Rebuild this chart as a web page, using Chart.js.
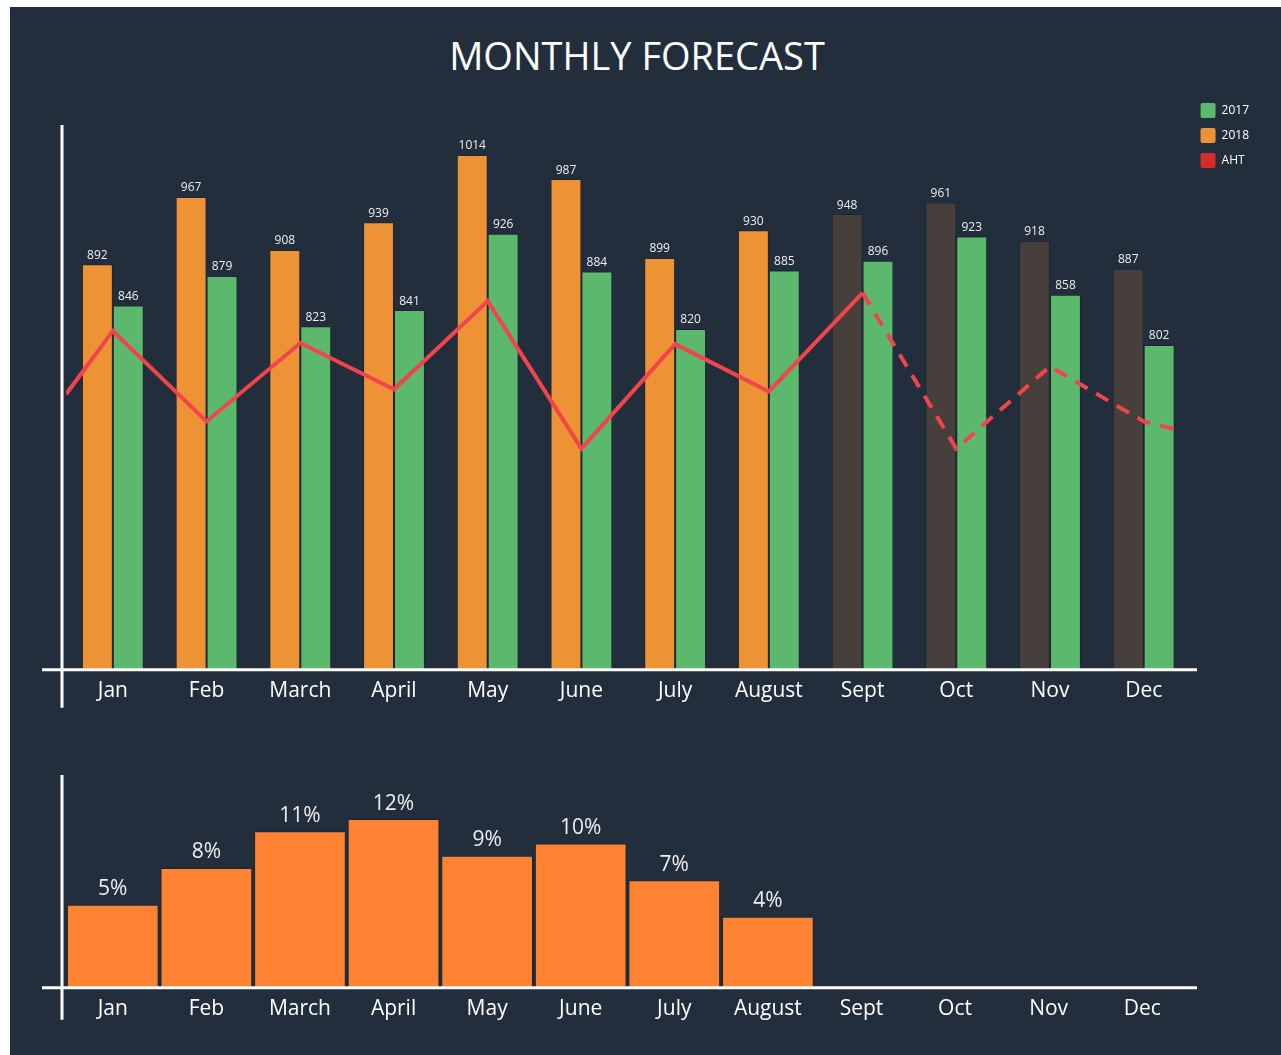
<!DOCTYPE html>
<html>
<head>
<meta charset="utf-8">
<title>Monthly Forecast</title>
<script src="https://cdn.jsdelivr.net/npm/chart.js@4/dist/chart.umd.min.js"></script>
<style>
  html, body { margin: 0; padding: 0; background: #ffffff; }
  #panel {
    position: absolute; left: 10px; top: 7px; width: 1271px; height: 1048px;
    background: #222e3c;
  }
  #title {
    position: absolute; left: 0; top: 36px; width: 1274px;
    text-align: center; color: #ffffff;
    font: 38px/1 'Open Sans', 'Noto Sans', sans-serif;
  }
  canvas { position: absolute; left: 0; }
  #forecastChart { top: 0; }
  #growthChart { top: 740px; }
</style>
</head>
<body>
<div id="panel"></div>
<div id="title">MONTHLY FORECAST</div>
<canvas id="forecastChart" width="1281" height="720"></canvas>
<canvas id="growthChart" width="1281" height="315"></canvas>
<script>
// Categories and values
const months = ['Jan', 'Feb', 'March', 'April', 'May', 'June', 'July', 'August', 'Sept', 'Oct', 'Nov', 'Dec'];
const sales2018 = [892, 967, 908, 939, 1014, 987, 899, 930, 948, 961, 918, 887];
const sales2017 = [846, 879, 823, 841, 926, 884, 820, 885, 896, 923, 858, 802];
// AHT index (0-100): one point per month plus the stubs at both ends
const ahtX = [-0.5, 0, 1, 2, 3, 4, 5, 6, 7, 8, 9, 10, 11, 11.4];
const ahtValues = [50.6, 62.2, 45.6, 60.0, 51.5, 67.7, 40.6, 59.8, 51.1, 69.2, 40.6, 55.7, 45.6, 43.9];
const growthPct = [5, 8, 11, 12, 9, 10, 7, 4, null, null, null, null];
const firstForecast = 8; // Sept onward is forecast

const orange = '#ee9335';
const green = '#5bb86c';
const forecastGrey = '#463f3b';
const red = '#f2444a';
const white = '#ffffff';
const font = "'Open Sans', 'Noto Sans', sans-serif";

Chart.defaults.font.family = font;
Chart.defaults.color = white;

const toPoints = arr => arr.map((v, i) => ({ x: i, y: v }));

// month axis shared by both charts: one tick per month
const monthAxis = {
  type: 'linear',
  min: -0.5,
  max: 11.5,
  offset: false,
  grid: { display: false, drawTicks: false },
  border: { display: false },
  afterBuildTicks: axis => { axis.ticks = months.map((m, i) => ({ value: i })); },
  ticks: {
    color: white,
    font: { size: 21 },
    padding: 9,
    maxRotation: 0,
    autoSkip: false,
    callback: v => months[v]
  }
};

// White axis lines that run past the chart area, like the reference
function axisLinesPlugin(yTop, yBottomExtra) {
  return {
    id: 'axisLines',
    afterDatasetsDraw(chart) {
      const { ctx, chartArea } = chart;
      ctx.save();
      ctx.strokeStyle = white;
      ctx.lineWidth = 3;
      ctx.beginPath();
      ctx.moveTo(42, chartArea.bottom);
      ctx.lineTo(1197, chartArea.bottom);
      ctx.moveTo(62, yTop);
      ctx.lineTo(62, chartArea.bottom + yBottomExtra);
      ctx.stroke();
      ctx.restore();
    }
  };
}

// Value labels above each bar
function barLabelsPlugin(fontSize, suffix, gap) {
  return {
    id: 'barLabels',
    afterDatasetsDraw(chart) {
      const { ctx } = chart;
      ctx.save();
      ctx.fillStyle = '#eeeeee';
      ctx.font = fontSize + 'px ' + font;
      ctx.textAlign = 'center';
      ctx.textBaseline = 'bottom';
      chart.data.datasets.forEach((ds, i) => {
        if (ds.type === 'line') return;
        const meta = chart.getDatasetMeta(i);
        meta.data.forEach((bar, j) => {
          const v = ds.data[j].y;
          if (v === null || v === undefined) return;
          ctx.fillText(v + suffix, bar.x, bar.y - gap);
        });
      });
      ctx.restore();
    }
  };
}

const barColors2018 = months.map((m, i) => i >= firstForecast ? forecastGrey : orange);

new Chart(document.getElementById('forecastChart'), {
  type: 'bar',
  data: {
    datasets: [
      {
        type: 'line',
        label: 'AHT',
        data: ahtX.map((x, i) => ({ x: x, y: ahtValues[i] })),
        yAxisID: 'yLine',
        borderColor: red,
        borderWidth: 4,
        pointRadius: 0,
        tension: 0,
        fill: false,
        segment: {
          borderDash: c => c.p0.parsed.x >= firstForecast ? [14, 10] : undefined
        }
      },
      {
        label: '2018',
        data: toPoints(sales2018),
        backgroundColor: barColors2018,
        borderColor: 'rgba(20,25,35,0.35)',
        borderWidth: 1,
        categoryPercentage: 0.66,
        barPercentage: 1.0
      },
      {
        label: '2017',
        data: toPoints(sales2017),
        backgroundColor: green,
        borderColor: 'rgba(20,25,35,0.35)',
        borderWidth: 1,
        categoryPercentage: 0.66,
        barPercentage: 1.0
      }
    ]
  },
  options: {
    responsive: false,
    animation: false,
    layout: { padding: { left: 66, right: 22, top: 93, bottom: 7 } },
    scales: {
      x: monthAxis,
      y: {
        display: false,
        min: 440,
        max: 1083
      },
      yLine: {
        display: false,
        min: 0,
        max: 105.9
      }
    },
    plugins: {
      legend: {
        position: 'right',
        align: 'start',
        labels: {
          color: white,
          boxWidth: 15,
          boxHeight: 15,
          padding: 10,
          font: { size: 12 },
          generateLabels() {
            return [
              { text: '2017', fillStyle: green, strokeStyle: green, lineWidth: 0, datasetIndex: 2, borderRadius: 2 },
              { text: '2018', fillStyle: orange, strokeStyle: orange, lineWidth: 0, datasetIndex: 1, borderRadius: 2 },
              { text: 'AHT', fillStyle: '#d42b2b', strokeStyle: '#d42b2b', lineWidth: 0, datasetIndex: 0, borderRadius: 2 }
            ].map(l => Object.assign(l, { fontColor: white }));
          }
        }
      },
      tooltip: { enabled: false }
    }
  },
  plugins: [axisLinesPlugin(125, 38), barLabelsPlugin(12, '', 3)]
});

const growthBase = -1.8;

new Chart(document.getElementById('growthChart'), {
  type: 'bar',
  data: {
    datasets: [{
      label: 'Growth',
      data: toPoints(growthPct),
      base: growthBase,
      backgroundColor: '#ff8332',
      borderColor: 'rgba(20,25,35,0.4)',
      borderWidth: 1,
      categoryPercentage: 0.98,
      barPercentage: 1.0
    }]
  },
  options: {
    responsive: false,
    animation: false,
    layout: { padding: { left: 66, right: 92, top: 35, bottom: 24 } },
    scales: {
      x: monthAxis,
      y: {
        display: false,
        min: growthBase,
        max: 15.6
      }
    },
    plugins: {
      legend: { display: false },
      tooltip: { enabled: false }
    }
  },
  plugins: [axisLinesPlugin(35, 32), barLabelsPlugin(21, '%', 5)]
});
</script>
</body>
</html>
